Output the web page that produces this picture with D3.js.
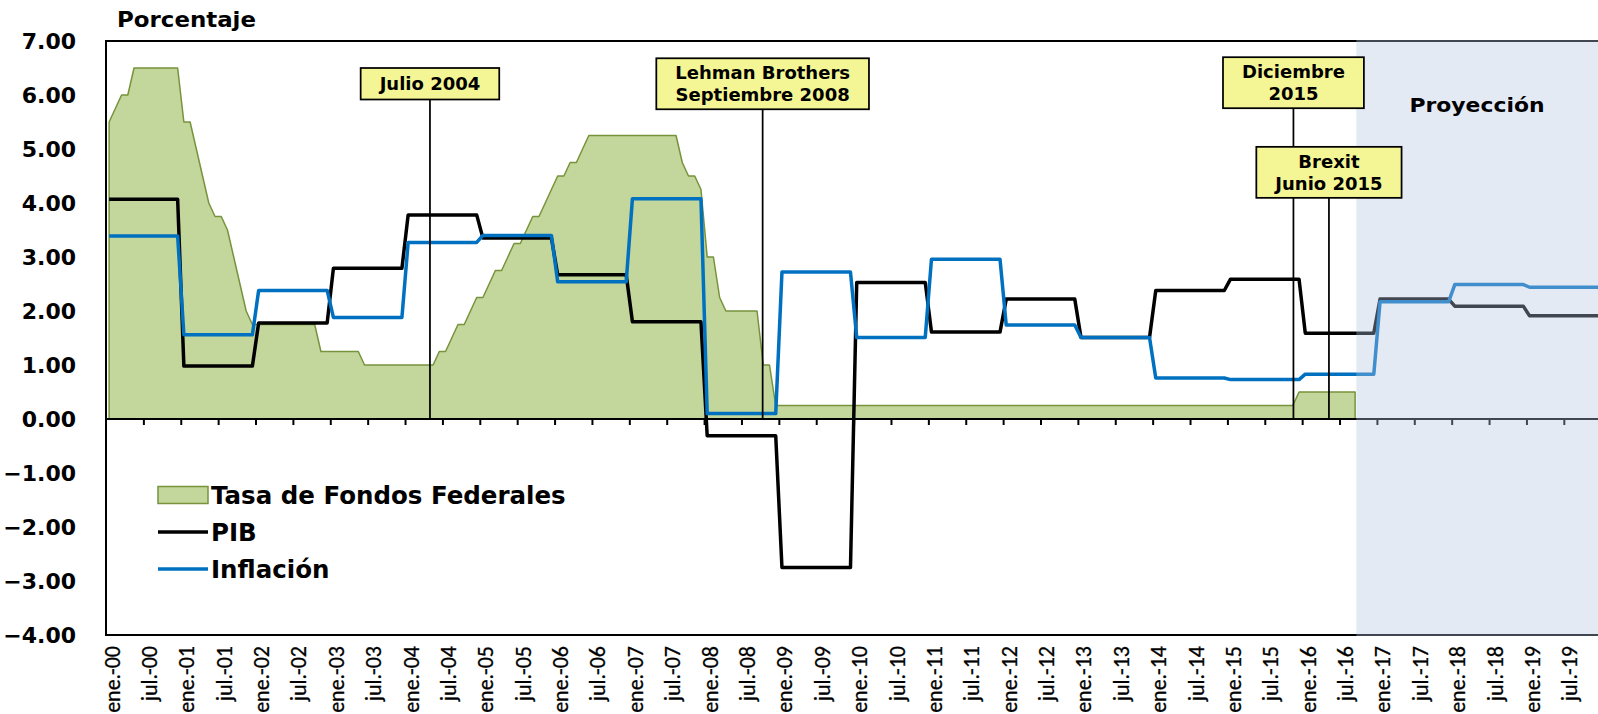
<!DOCTYPE html>
<html>
<head>
<meta charset="utf-8">
<script src="https://cdn.jsdelivr.net/npm/d3@7"></script>
<style>
  html, body { margin: 0; padding: 0; background: #ffffff; }
  svg { display: block; }
</style>
</head>
<body>
<svg id="chart" width="1598" height="714"></svg>
<script>
// ---------------------------------------------------------------
// Data (monthly, index 0 = enero 2000)
// ---------------------------------------------------------------
const years = d3.range(2000, 2020);
const monthAbbr = ["ene.", "feb.", "mar.", "abr.", "may.", "jun.",
                   "jul.", "ago.", "sep.", "oct.", "nov.", "dic."];
const months = years.flatMap(y => monthAbbr.map(m => `${m}-${String(y % 100).padStart(2, "0")}`));

const tickLabels = [
  "ene.-00", "jul.-00", "ene.-01", "jul.-01", "ene.-02", "jul.-02", "ene.-03", "jul.-03",
  "ene.-04", "jul.-04", "ene.-05", "jul.-05", "ene.-06", "jul.-06", "ene.-07", "jul.-07",
  "ene.-08", "jul.-08", "ene.-09", "jul.-09", "ene.-10", "jul.-10", "ene.-11", "jul.-11",
  "ene.-12", "jul.-12", "ene.-13", "jul.-13", "ene.-14", "jul.-14", "ene.-15", "jul.-15",
  "ene.-16", "jul.-16", "ene.-17", "jul.-17", "ene.-18", "jul.-18", "ene.-19", "jul.-19"
];

const yTicks = [7, 6, 5, 4, 3, 2, 1, 0, -1, -2, -3, -4];

// Tasa de Fondos Federales (objetivo, fin de mes), ene.-00 a sep.-16
const fedFunds = [
  5.50, 5.75, 6.00, 6.00, 6.50, 6.50, 6.50, 6.50, 6.50, 6.50, 6.50, 6.50, // 2000
  5.50, 5.50, 5.00, 4.50, 4.00, 3.75, 3.75, 3.50, 3.00, 2.50, 2.00, 1.75, // 2001
  1.75, 1.75, 1.75, 1.75, 1.75, 1.75, 1.75, 1.75, 1.75, 1.75, 1.25, 1.25, // 2002
  1.25, 1.25, 1.25, 1.25, 1.25, 1.00, 1.00, 1.00, 1.00, 1.00, 1.00, 1.00, // 2003
  1.00, 1.00, 1.00, 1.00, 1.00, 1.25, 1.25, 1.50, 1.75, 1.75, 2.00, 2.25, // 2004
  2.25, 2.50, 2.75, 2.75, 3.00, 3.25, 3.25, 3.50, 3.75, 3.75, 4.00, 4.25, // 2005
  4.50, 4.50, 4.75, 4.75, 5.00, 5.25, 5.25, 5.25, 5.25, 5.25, 5.25, 5.25, // 2006
  5.25, 5.25, 5.25, 5.25, 5.25, 5.25, 5.25, 5.25, 4.75, 4.50, 4.50, 4.25, // 2007
  3.00, 3.00, 2.25, 2.00, 2.00, 2.00, 2.00, 2.00, 2.00, 1.00, 1.00, 0.25, // 2008
  0.25, 0.25, 0.25, 0.25, 0.25, 0.25, 0.25, 0.25, 0.25, 0.25, 0.25, 0.25, // 2009
  0.25, 0.25, 0.25, 0.25, 0.25, 0.25, 0.25, 0.25, 0.25, 0.25, 0.25, 0.25, // 2010
  0.25, 0.25, 0.25, 0.25, 0.25, 0.25, 0.25, 0.25, 0.25, 0.25, 0.25, 0.25, // 2011
  0.25, 0.25, 0.25, 0.25, 0.25, 0.25, 0.25, 0.25, 0.25, 0.25, 0.25, 0.25, // 2012
  0.25, 0.25, 0.25, 0.25, 0.25, 0.25, 0.25, 0.25, 0.25, 0.25, 0.25, 0.25, // 2013
  0.25, 0.25, 0.25, 0.25, 0.25, 0.25, 0.25, 0.25, 0.25, 0.25, 0.25, 0.25, // 2014
  0.25, 0.25, 0.25, 0.25, 0.25, 0.25, 0.25, 0.25, 0.25, 0.25, 0.25, 0.50, // 2015
  0.50, 0.50, 0.50, 0.50, 0.50, 0.50, 0.50, 0.50, 0.50                    // 2016
];

// PIB, variación anual (%), ene.-00 a dic.-19 (2017-2019 proyección)
const pib = [
  4.07, 4.07, 4.07, 4.07, 4.07, 4.07, 4.07, 4.07, 4.07, 4.07, 4.07, 4.07, // 2000
  0.98, 0.98, 0.98, 0.98, 0.98, 0.98, 0.98, 0.98, 0.98, 0.98, 0.98, 0.98, // 2001
  1.78, 1.78, 1.78, 1.78, 1.78, 1.78, 1.78, 1.78, 1.78, 1.78, 1.78, 1.78, // 2002
  2.79, 2.79, 2.79, 2.79, 2.79, 2.79, 2.79, 2.79, 2.79, 2.79, 2.79, 2.79, // 2003
  3.78, 3.78, 3.78, 3.78, 3.78, 3.78, 3.78, 3.78, 3.78, 3.78, 3.78, 3.78, // 2004
  3.35, 3.35, 3.35, 3.35, 3.35, 3.35, 3.35, 3.35, 3.35, 3.35, 3.35, 3.35, // 2005
  2.67, 2.67, 2.67, 2.67, 2.67, 2.67, 2.67, 2.67, 2.67, 2.67, 2.67, 2.67, // 2006
  1.80, 1.80, 1.80, 1.80, 1.80, 1.80, 1.80, 1.80, 1.80, 1.80, 1.80, 1.80, // 2007
  -0.31, -0.31, -0.31, -0.31, -0.31, -0.31, -0.31, -0.31, -0.31, -0.31, -0.31, -0.31, // 2008
  -2.75, -2.75, -2.75, -2.75, -2.75, -2.75, -2.75, -2.75, -2.75, -2.75, -2.75, -2.75, // 2009
  2.53, 2.53, 2.53, 2.53, 2.53, 2.53, 2.53, 2.53, 2.53, 2.53, 2.53, 2.53, // 2010
  1.61, 1.61, 1.61, 1.61, 1.61, 1.61, 1.61, 1.61, 1.61, 1.61, 1.61, 1.61, // 2011
  2.22, 2.22, 2.22, 2.22, 2.22, 2.22, 2.22, 2.22, 2.22, 2.22, 2.22, 2.22, // 2012
  1.51, 1.51, 1.51, 1.51, 1.51, 1.51, 1.51, 1.51, 1.51, 1.51, 1.51, 1.51, // 2013
  2.38, 2.38, 2.38, 2.38, 2.38, 2.38, 2.38, 2.38, 2.38, 2.38, 2.38, 2.38, // 2014
  2.59, 2.59, 2.59, 2.59, 2.59, 2.59, 2.59, 2.59, 2.59, 2.59, 2.59, 2.59, // 2015
  1.59, 1.59, 1.59, 1.59, 1.59, 1.59, 1.59, 1.59, 1.59, 1.59, 1.59, 1.59, // 2016
  2.22, 2.22, 2.22, 2.22, 2.22, 2.22, 2.22, 2.22, 2.22, 2.22, 2.22, 2.22, // 2017
  2.09, 2.09, 2.09, 2.09, 2.09, 2.09, 2.09, 2.09, 2.09, 2.09, 2.09, 2.09, // 2018
  1.91, 1.91, 1.91, 1.91, 1.91, 1.91, 1.91, 1.91, 1.91, 1.91, 1.91, 1.91  // 2019
];

// Inflación, variación anual (%), ene.-00 a dic.-19 (2017-2019 proyección)
const inflacion = [
  3.39, 3.39, 3.39, 3.39, 3.39, 3.39, 3.39, 3.39, 3.39, 3.39, 3.39, 3.39, // 2000
  1.56, 1.56, 1.56, 1.56, 1.56, 1.56, 1.56, 1.56, 1.56, 1.56, 1.56, 1.56, // 2001
  2.38, 2.38, 2.38, 2.38, 2.38, 2.38, 2.38, 2.38, 2.38, 2.38, 2.38, 2.38, // 2002
  1.88, 1.88, 1.88, 1.88, 1.88, 1.88, 1.88, 1.88, 1.88, 1.88, 1.88, 1.88, // 2003
  3.27, 3.27, 3.27, 3.27, 3.27, 3.27, 3.27, 3.27, 3.27, 3.27, 3.27, 3.27, // 2004
  3.40, 3.40, 3.40, 3.40, 3.40, 3.40, 3.40, 3.40, 3.40, 3.40, 3.40, 3.40, // 2005
  2.54, 2.54, 2.54, 2.54, 2.54, 2.54, 2.54, 2.54, 2.54, 2.54, 2.54, 2.54, // 2006
  4.08, 4.08, 4.08, 4.08, 4.08, 4.08, 4.08, 4.08, 4.08, 4.08, 4.08, 4.08, // 2007
  0.10, 0.10, 0.10, 0.10, 0.10, 0.10, 0.10, 0.10, 0.10, 0.10, 0.10, 0.10, // 2008
  2.72, 2.72, 2.72, 2.72, 2.72, 2.72, 2.72, 2.72, 2.72, 2.72, 2.72, 2.72, // 2009
  1.51, 1.51, 1.51, 1.51, 1.51, 1.51, 1.51, 1.51, 1.51, 1.51, 1.51, 1.51, // 2010
  2.96, 2.96, 2.96, 2.96, 2.96, 2.96, 2.96, 2.96, 2.96, 2.96, 2.96, 2.96, // 2011
  1.74, 1.74, 1.74, 1.74, 1.74, 1.74, 1.74, 1.74, 1.74, 1.74, 1.74, 1.74, // 2012
  1.51, 1.51, 1.51, 1.51, 1.51, 1.51, 1.51, 1.51, 1.51, 1.51, 1.51, 1.51, // 2013
  0.76, 0.76, 0.76, 0.76, 0.76, 0.76, 0.76, 0.76, 0.76, 0.76, 0.76, 0.76, // 2014
  0.73, 0.73, 0.73, 0.73, 0.73, 0.73, 0.73, 0.73, 0.73, 0.73, 0.73, 0.73, // 2015
  0.83, 0.83, 0.83, 0.83, 0.83, 0.83, 0.83, 0.83, 0.83, 0.83, 0.83, 0.83, // 2016
  2.17, 2.17, 2.17, 2.17, 2.17, 2.17, 2.17, 2.17, 2.17, 2.17, 2.17, 2.17, // 2017
  2.49, 2.49, 2.49, 2.49, 2.49, 2.49, 2.49, 2.49, 2.49, 2.49, 2.49, 2.49, // 2018
  2.44, 2.44, 2.44, 2.44, 2.44, 2.44, 2.44, 2.44, 2.44, 2.44, 2.44, 2.44  // 2019
];

// Eventos señalados (posición en meses desde ene.-00) y su texto
const eventMonths = [52.0, 105.4, 190.6, 196.3];
const eventTexts = [
  ["Julio 2004"],
  ["Lehman Brothers", "Septiembre 2008"],
  ["Diciembre", "2015"],
  ["Brexit", "Junio 2015"]
];
// Nivel (en %) del borde superior de cada recuadro
const eventBoxLevels = [6.50, 6.68, 6.70, 5.04];

// Inicio del periodo de proyección (meses desde ene.-00)
const projectionStart = 200.7;

const legendItems = ["Tasa de Fondos Federales", "PIB", "Inflación"];

// ---------------------------------------------------------------
// Layout
// ---------------------------------------------------------------
const plotLeft = 106, plotTop = 41, plotBottom = 635;
const monthWidth = 6.23;
const plotRight = plotLeft + monthWidth * months.length;

const BOLD = "'DejaVu Sans', Verdana, sans-serif";
const AXISFONT = "Carlito, Lato, 'Open Sans', sans-serif";

const svg = d3.select("#chart");

const x = d3.scaleBand().domain(months).range([plotLeft, plotRight]).padding(0);
const xm = d3.scaleLinear().domain([0, months.length]).range([plotLeft, plotRight]);
const xc = i => x(months[i]) + x.bandwidth() / 2;
const y = d3.scaleLinear().domain([-4, 7]).range([plotBottom, plotTop]);

// ---------------------------------------------------------------
// Fed funds area
// ---------------------------------------------------------------
const area = d3.area()
  .x((d, i) => xc(i))
  .y0(y(0))
  .y1(d => y(d));

svg.append("path")
  .datum(fedFunds)
  .attr("d", area)
  .attr("fill", "#c3d69b")
  .attr("stroke", "#77933c")
  .attr("stroke-width", 1.5)
  .attr("stroke-linejoin", "round");

// ---------------------------------------------------------------
// Lines
// ---------------------------------------------------------------
const line = d3.line().x((d, i) => xc(i)).y(d => y(d));

svg.append("path")
  .datum(pib)
  .attr("d", line)
  .attr("fill", "none")
  .attr("stroke", "#000000")
  .attr("stroke-width", 3.5)
  .attr("stroke-linejoin", "round");

svg.append("path")
  .datum(inflacion)
  .attr("d", line)
  .attr("fill", "none")
  .attr("stroke", "#0070c0")
  .attr("stroke-width", 3.5)
  .attr("stroke-linejoin", "round");

// ---------------------------------------------------------------
// Event marker lines (boxes drawn later, on top)
// ---------------------------------------------------------------
const boxHeight = n => 12 + 19.5 * n;
svg.append("g")
  .selectAll("line")
  .data(eventMonths)
  .join("line")
  .attr("x1", d => xm(d))
  .attr("x2", d => xm(d))
  .attr("y1", (d, i) => y(eventBoxLevels[i]) + boxHeight(eventTexts[i].length))
  .attr("y2", y(0))
  .attr("stroke", "#000")
  .attr("stroke-width", 1.75);

// ---------------------------------------------------------------
// Axes and frame
// ---------------------------------------------------------------
const xAxis = d3.axisBottom(xm)
  .tickValues(d3.range(6, months.length, 6))
  .tickSize(6)
  .tickFormat("");

svg.append("g")
  .attr("transform", `translate(0,${y(0)})`)
  .call(xAxis)
  .call(g => g.select(".domain").remove())
  .call(g => g.selectAll(".tick line").attr("stroke", "#000").attr("stroke-width", 2));

svg.append("line")
  .attr("x1", plotLeft).attr("x2", plotRight)
  .attr("y1", y(0)).attr("y2", y(0))
  .attr("stroke", "#000").attr("stroke-width", 2);

svg.append("path")
  .attr("d", `M${plotRight},${plotTop}H${plotLeft}V${plotBottom}H${plotRight}`)
  .attr("fill", "none")
  .attr("stroke", "#000")
  .attr("stroke-width", 2);

// Y tick labels
svg.append("g")
  .selectAll("text")
  .data(yTicks)
  .join("text")
  .attr("x", 76)
  .attr("y", d => y(d))
  .attr("dy", "0.36em")
  .attr("text-anchor", "end")
  .attr("font-family", BOLD)
  .attr("font-weight", "bold")
  .attr("font-size", 22)
  .attr("fill", "#000")
  .text(d => d3.format(".2f")(d));

// X tick labels (rotated), at the bottom of the plot
svg.append("g")
  .selectAll("text")
  .data(tickLabels)
  .join("text")
  .attr("transform", (d, i) => `translate(${xc(i * 6) + 2.5},${plotBottom + 11}) rotate(-90)`)
  .attr("dy", "0.36em")
  .attr("text-anchor", "end")
  .attr("font-family", AXISFONT)
  .attr("font-size", 22)
  .attr("fill", "#000")
  .attr("stroke", "#000")
  .attr("stroke-width", 0.3)
  .text(d => d);

// Axis title
svg.append("text")
  .attr("x", 117)
  .attr("y", 27)
  .attr("font-family", BOLD)
  .attr("font-weight", "bold")
  .attr("font-size", 21)
  .attr("textLength", 139)
  .attr("lengthAdjust", "spacingAndGlyphs")
  .text("Porcentaje");

// ---------------------------------------------------------------
// Projection shading (translucent, over the series and axis)
// ---------------------------------------------------------------
svg.append("rect")
  .attr("x", xm(projectionStart))
  .attr("y", plotTop - 1)
  .attr("width", plotRight - xm(projectionStart) + 2)
  .attr("height", plotBottom - plotTop + 2)
  .attr("fill", "rgb(179,196,224)")
  .attr("fill-opacity", 0.36);

svg.append("text")
  .attr("x", 1477)
  .attr("y", 112)
  .attr("text-anchor", "middle")
  .attr("font-family", BOLD)
  .attr("font-weight", "bold")
  .attr("font-size", 20)
  .attr("textLength", 135)
  .attr("lengthAdjust", "spacingAndGlyphs")
  .text("Proyección");

// ---------------------------------------------------------------
// Event boxes
// ---------------------------------------------------------------
const boxes = svg.append("g")
  .selectAll("g")
  .data(eventMonths)
  .join("g");

boxes.each(function (m, i) {
  const g = d3.select(this);
  const lines = eventTexts[i];
  const cx = xm(m);
  const top = y(eventBoxLevels[i]);
  const h = boxHeight(lines.length);
  const rect = g.append("rect")
    .attr("y", top)
    .attr("height", h)
    .attr("fill", "#f4f594")
    .attr("stroke", "#000")
    .attr("stroke-width", 1.75);
  const texts = g.selectAll("text")
    .data(lines)
    .join("text")
    .attr("x", cx)
    .attr("y", (d, k) => top + h / 2 - (lines.length - 1) * 11 + 6.5 + k * 22)
    .attr("text-anchor", "middle")
    .attr("font-family", BOLD)
    .attr("font-weight", "bold")
    .attr("font-size", 18)
    .attr("fill", "#000")
    .text(d => d);
  let wMax = 0;
  texts.each(function () { wMax = Math.max(wMax, this.getComputedTextLength()); });
  const bw = wMax + 38;
  rect.attr("x", cx - bw / 2).attr("width", bw);
});

// ---------------------------------------------------------------
// Legend
// ---------------------------------------------------------------
const legend = svg.append("g").attr("transform", "translate(158,0)");
const legendRows = [495, 532, 569];

legend.append("rect")
  .attr("x", 0).attr("y", legendRows[0] - 8.5)
  .attr("width", 50).attr("height", 17)
  .attr("fill", "#c3d69b").attr("stroke", "#77933c").attr("stroke-width", 1.5);
legend.append("line")
  .attr("x1", 0).attr("x2", 50).attr("y1", legendRows[1]).attr("y2", legendRows[1])
  .attr("stroke", "#000").attr("stroke-width", 3.5);
legend.append("line")
  .attr("x1", 0).attr("x2", 50).attr("y1", legendRows[2]).attr("y2", legendRows[2])
  .attr("stroke", "#0070c0").attr("stroke-width", 3.5);

legend.selectAll("text")
  .data(legendItems)
  .join("text")
  .attr("x", 53)
  .attr("y", (d, i) => legendRows[i])
  .attr("dy", "0.36em")
  .attr("font-family", BOLD)
  .attr("font-weight", "bold")
  .attr("font-size", 24.5)
  .attr("fill", "#000")
  .text(d => d);
</script>
</body>
</html>
